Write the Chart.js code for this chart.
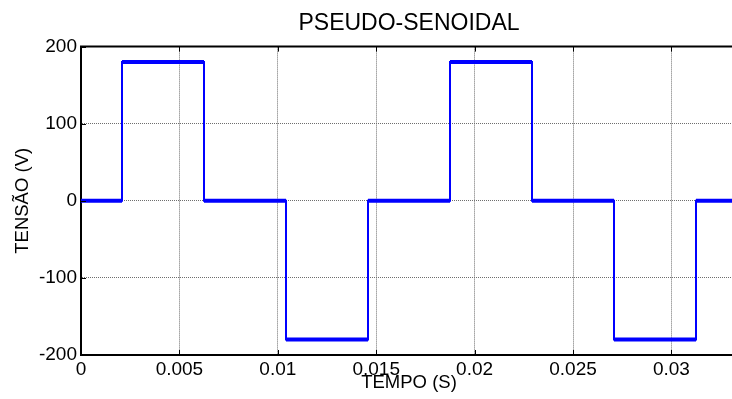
<!DOCTYPE html>
<html>
<head>
<meta charset="utf-8">
<script src="https://cdn.jsdelivr.net/npm/chart.js@4"></script>
<style>
  html, body { margin: 0; padding: 0; background: #fff; overflow: hidden; }
  #wrap { width: 732px; height: 399px; overflow: hidden; }
</style>
</head>
<body>
<div id="wrap"><canvas id="waveChart" width="745" height="399"></canvas></div>
<script>
// switching instants (s) and the level held after each one (V)
const edgeTimes = [0, 0.002083, 0.00625, 0.010417, 0.014583, 0.01875, 0.022917, 0.027083, 0.03125, 0.033333];
const levels = [0, 180, 0, -180, 0, 180, 0, -180, 0];
const xTicks = [0, 0.005, 0.01, 0.015, 0.02, 0.025, 0.03];
const yTicks = [-200, -100, 0, 100, 200];

// full stepped trace (thin, shows the vertical jumps)
const stepPoints = [];
// plateaus only (thick, like the dense markers in the original)
const plateauPoints = [];
for (let i = 0; i < levels.length; i++) {
  stepPoints.push({ x: edgeTimes[i], y: levels[i] });
  stepPoints.push({ x: edgeTimes[i + 1], y: levels[i] });
  plateauPoints.push({ x: edgeTimes[i], y: levels[i] });
  plateauPoints.push({ x: edgeTimes[i + 1], y: levels[i] });
  plateauPoints.push({ x: edgeTimes[i + 1], y: null });
}

const font = "'Liberation Sans', Arial, sans-serif";

// box top line + inward tick marks, matlab style
const framePlugin = {
  id: "frame",
  afterDraw(chart) {
    const { ctx, chartArea: a, scales } = chart;
    ctx.save();
    ctx.strokeStyle = "#000";
    ctx.lineWidth = 2;
    ctx.beginPath();
    ctx.moveTo(a.left - 1, a.top);
    ctx.lineTo(a.right, a.top);
    ctx.stroke();
    ctx.lineWidth = 1;
    ctx.beginPath();
    xTicks.forEach(v => {
      const px = Math.round(scales.x.getPixelForValue(v)) + 0.5;
      ctx.moveTo(px, a.bottom);
      ctx.lineTo(px, a.bottom - 5);
      ctx.moveTo(px, a.top);
      ctx.lineTo(px, a.top + 5);
    });
    yTicks.forEach(v => {
      const py = Math.round(scales.y.getPixelForValue(v)) + 0.5;
      ctx.moveTo(a.left, py);
      ctx.lineTo(a.left + 5, py);
    });
    ctx.stroke();
    ctx.restore();
  }
};

const ctx = document.getElementById("waveChart").getContext("2d");

const waveChart = new Chart(ctx, {
  type: "line",
  data: {
    datasets: [
      {
        label: "plateaus",
        data: plateauPoints,
        borderColor: "#0000ff",
        borderWidth: 4,
        pointRadius: 0,
        spanGaps: false,
        tension: 0,
      },
      {
        label: "tensão",
        data: stepPoints,
        borderColor: "#0000ff",
        borderWidth: 2,
        pointRadius: 0,
        tension: 0,
      },
    ],
  },
  options: {
    responsive: false,
    animation: false,
    devicePixelRatio: 1,
    layout: { padding: { left: 0, right: 8, top: 0, bottom: 0 } },
    plugins: {
      legend: { display: false },
      tooltip: { enabled: false },
      title: {
        display: true,
        text: "PSEUDO-SENOIDAL",
        fullSize: false,
        color: "#000",
        font: { family: font, size: 23, weight: "normal" },
        padding: { top: 10, bottom: 9 },
      },
    },
    scales: {
      x: {
        type: "linear",
        min: 0,
        max: 0.033333,
        afterFit: s => { s.height = 44; },
        afterBuildTicks: s => { s.ticks = xTicks.map(v => ({ value: v })); },
        grid: { color: "#6e6e6e", drawTicks: false },
        border: { color: "#000", width: 2, dash: [1, 1] },
        ticks: {
          color: "#000",
          padding: 3,
          maxRotation: 0,
          font: { family: font, size: 19 },
          callback: v => String(+v.toFixed(3)),
        },
        title: {
          display: true,
          text: "TEMPO (S)",
          color: "#000",
          font: { family: font, size: 18.5 },
          padding: { top: 0, bottom: 5 },
        },
      },
      y: {
        min: -200,
        max: 200,
        afterFit: s => { s.width = 81; },
        afterBuildTicks: s => { s.ticks = yTicks.map(v => ({ value: v })); },
        grid: { color: "#6e6e6e", drawTicks: false },
        border: { color: "#000", width: 2, dash: [1, 1] },
        ticks: {
          color: "#000",
          padding: 4,
          font: { family: font, size: 19 },
        },
        title: {
          display: true,
          text: "TENSÃO (V)",
          color: "#000",
          font: { family: font, size: 18.5 },
          padding: { top: 12, bottom: 0 },
        },
      },
    },
  },
  plugins: [framePlugin],
});
</script>
</body>
</html>
